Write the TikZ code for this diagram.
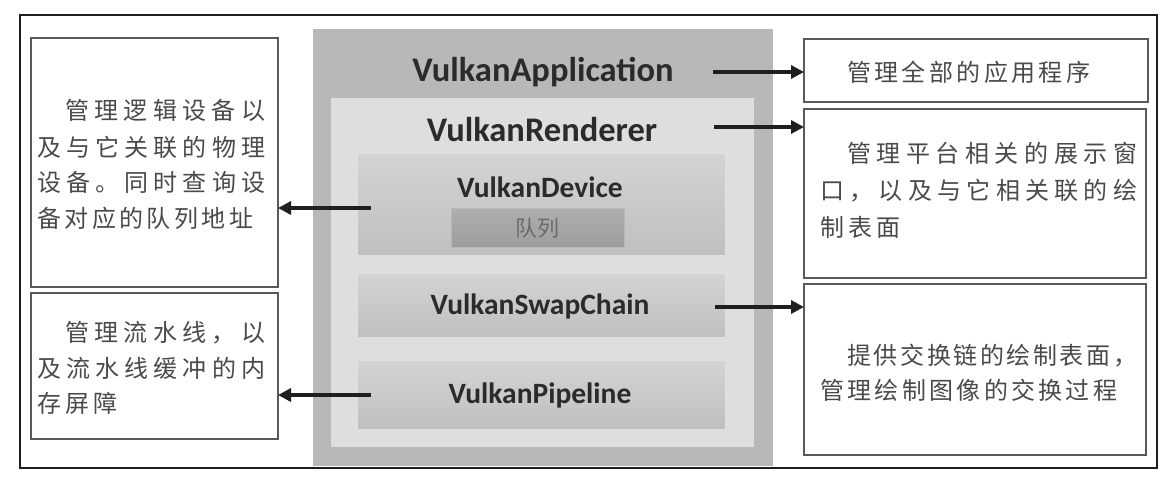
\documentclass[tikz,border=0pt]{standalone}
\usepackage{fontspec}
\setmainfont{Carlito}
\newfontfamily\cjk{Noto Sans CJK SC}
\usetikzlibrary{arrows.meta}
\def\jlx#1{#1\futurelet\jlnext\jly}
\def\jly{\ifx\jlnext\relax\expandafter\jlgobble\else\hfil\expandafter\jlx\fi}
\def\jlgobble#1{}
\newcommand\jline[2]{\hbox to #1{\jlx#2\relax}}
\definecolor{txt}{HTML}{4A4A4A}
\definecolor{ttl}{HTML}{2B2B2B}
\begin{document}
\begin{tikzpicture}[x=1pt,y=-1pt,
  box/.style={anchor=north west,inner sep=0pt,outer sep=0pt},
  side/.style={box,draw=black!65,line width=1.3pt,fill=white},
  mod/.style={box,top color=black!17,bottom color=black!25,draw=black!12,line width=0.8pt},
  ttlbig/.style={font=\bfseries\fontsize{34.5}{38}\selectfont,text=ttl,inner sep=0pt},
  ttlsmall/.style={font=\bfseries\fontsize{29.5}{34}\selectfont,text=ttl,inner sep=0pt},
  cn/.style={anchor=base west,inner sep=0pt,font=\cjk\fontsize{24}{28}\selectfont,text=txt},
  arr/.style={line width=4pt,draw=black!88,-{Triangle[length=13pt,width=13pt]}}]
\useasboundingbox (0,0) rectangle (1176,482);
\fill[white] (0,0) rectangle (1176,482);
% outer frame
\node[box,draw=black!88,line width=2.4pt,minimum width=1137pt,minimum height=453pt] (frame) at (20,15) {};
% centre stack
\node[box,fill=black!28,minimum width=460pt,minimum height=437pt] (cg) at (313,29) {};
\node[box,fill=black!13,minimum width=423pt,minimum height=349pt] (rend) at (331,98) {};
\node[mod,minimum width=368pt,minimum height=102pt] (dev) at (357,153) {};
\node[box,top color=black!32,bottom color=black!38,draw=black!28,line width=0.8pt,minimum width=173pt,minimum height=39pt] (queue) at (451,208) {};
\node[mod,minimum width=368pt,minimum height=64pt] (swap) at (357,273) {};
\node[mod,minimum width=368pt,minimum height=69pt] (pipe) at (357,360) {};
% titles
\node[ttlbig] (tapp) at (543,72) {VulkanApplication};
\node[ttlbig] (trend) at (542,130) {VulkanRenderer};
\node[ttlsmall] (tdev) at (540,187) {VulkanDevice};
\node[inner sep=0pt,font=\cjk\fontsize{22}{24}\selectfont,text=black!58] (tq) at (537,228) {队列};
\node[ttlsmall] (tswap) at (540,306) {VulkanSwapChain};
\node[ttlsmall] (tpipe) at (540,395) {VulkanPipeline};
% side boxes
\node[side,minimum width=247pt,minimum height=249pt] (lb1) at (31,38) {};
\node[side,minimum width=247pt,minimum height=146pt] (lb2) at (31,293) {};
\node[side,minimum width=344pt,minimum height=63pt] (rb1) at (804,39) {};
\node[side,minimum width=342pt,minimum height=169pt] (rb2) at (804,109) {};
\node[side,minimum width=342pt,minimum height=171pt] (rb3) at (804,284) {};
% left box 1 text
\node[cn] (l1a) at (65,119) {\jline{200pt}{管理逻辑设备以}};
\node[cn] (l1b) at (37,156) {\jline{228pt}{及与它关联的物理}};
\node[cn] (l1c) at (37,191) {\jline{228pt}{设备。同时查询设}};
\node[cn] (l1d) at (37,227) {\jline{216pt}{备对应的队列地址}};
% left box 2 text
\node[cn] (l2a) at (65,341) {\jline{200pt}{管理流水线，以}};
\node[cn] (l2b) at (37,377) {\jline{228pt}{及流水线缓冲的内}};
\node[cn] (l2c) at (37,412) {\jline{80pt}{存屏障}};
% right box 1 text
\node[cn] (r1a) at (847,81) {\jline{243pt}{管理全部的应用程序}};
% right box 2 text
\node[cn] (r2a) at (847,162) {\jline{290pt}{管理平台相关的展示窗}};
\node[cn] (r2b) at (820,199) {\jline{317pt}{口，以及与它相关联的绘}};
\node[cn] (r2c) at (820,236) {\jline{80pt}{制表面}};
% right box 3 text
\node[cn] (r3a) at (847,364) {\jline{290pt}{提供交换链的绘制表面，}};
\node[cn] (r3b) at (820,399) {\jline{297pt}{管理绘制图像的交换过程}};
% arrows
\coordinate (a1) at (713,72);
\coordinate (a2) at (714,127);
\coordinate (a3) at (715,307);
\coordinate (a4) at (371,208);
\coordinate (a5) at (371,395);
\draw[arr] (a1) -- (a1 -| rb1.west);
\draw[arr] (a2) -- (a2 -| rb2.west);
\draw[arr] (a3) -- (a3 -| rb3.west);
\draw[arr] (a4) -- (a4 -| lb1.east);
\draw[arr] (a5) -- (a5 -| lb2.east);
\end{tikzpicture}
\end{document}
